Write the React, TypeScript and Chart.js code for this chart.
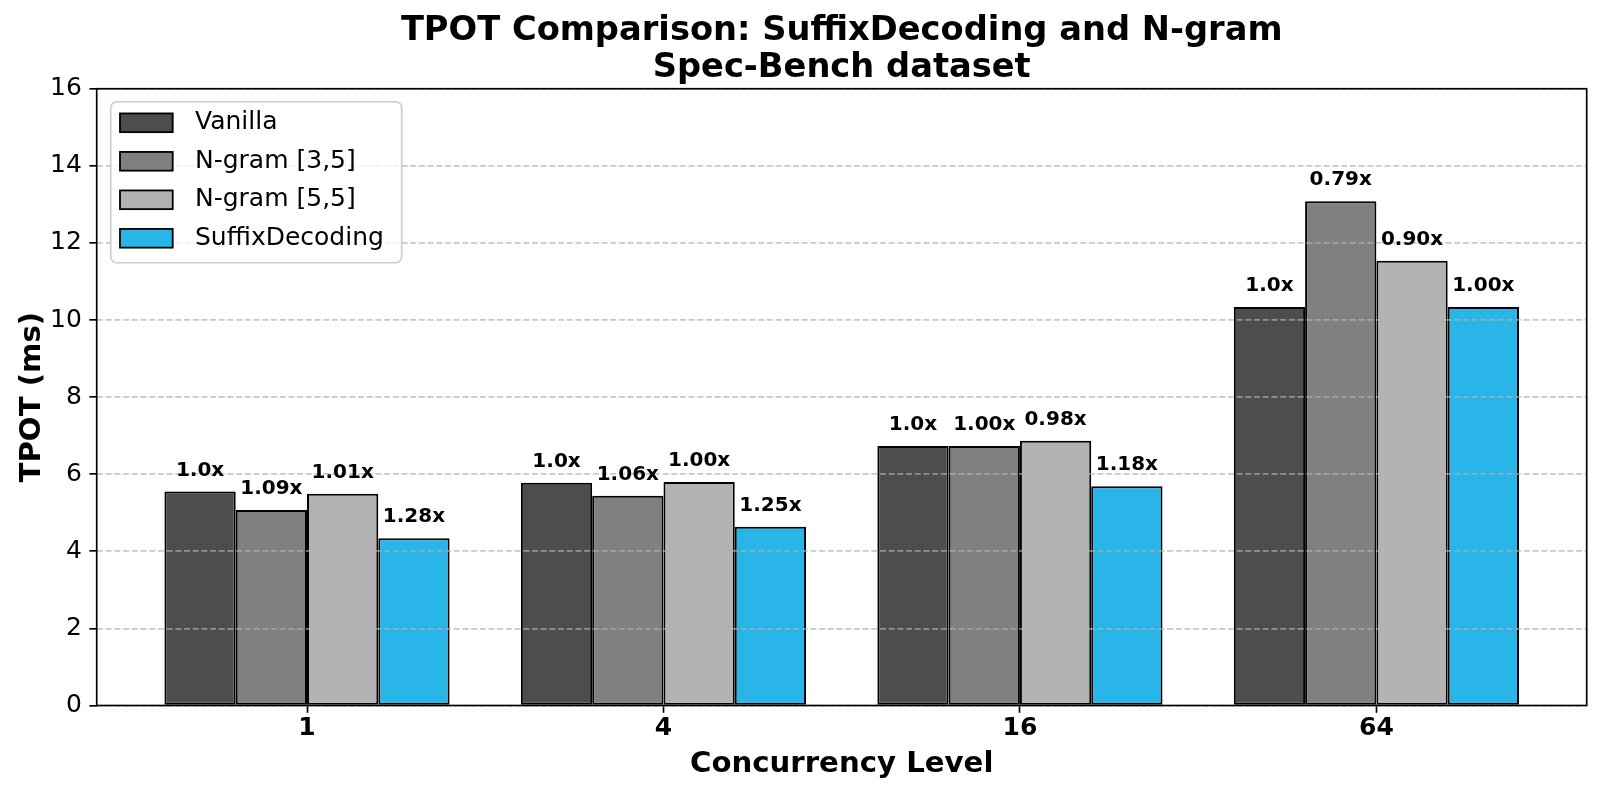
import {useEffect, useRef} from "react";

import {Chart, registerables} from "chart.js";

Chart.register(...registerables);

const FONT = "'DejaVu Sans', sans-serif";

// Data
const concurrencyLevels = ["1", "4", "16", "64"];
const seriesNames = ["Vanilla", "N-gram [3,5]", "N-gram [5,5]", "SuffixDecoding"];

const vanillaTpot = [5.55, 5.78, 6.73, 10.34];
const ngram35Tpot = [5.07, 5.44, 6.73, 13.08];
const ngram55Tpot = [5.49, 5.8, 6.87, 11.54];
const suffixTpot = [4.34, 4.64, 5.69, 10.34];

const vanillaSpeedup = ["1.0x", "1.0x", "1.0x", "1.0x"];
const ngram35Speedup = ["1.09x", "1.06x", "1.00x", "0.79x"];
const ngram55Speedup = ["1.01x", "1.00x", "0.98x", "0.90x"];
const suffixSpeedup = ["1.28x", "1.25x", "1.18x", "1.00x"];

const seriesColors = ["#4d4d4d", "#808080", "#b3b3b3", "#29b5e8"];

const titleLines = ["TPOT Comparison: SuffixDecoding and N-gram", "Spec-Bench dataset"];

const allTpot = [vanillaTpot, ngram35Tpot, ngram55Tpot, suffixTpot];
const allSpeedup = [vanillaSpeedup, ngram35Speedup, ngram55Speedup, suffixSpeedup];

// bar annotations, axes frame and the legend box (drawn inside the plot)
const overlayPlugin = {
  id: "overlay",
  afterDraw(chart: Chart) {
    const {ctx, chartArea} = chart;
    ctx.save();

    // speedup labels above bars
    ctx.font = `bold 20px ${FONT}`;
    ctx.fillStyle = "#000";
    ctx.textAlign = "center";
    ctx.textBaseline = "alphabetic";
    chart.data.datasets.forEach((_, di) => {
      const meta = chart.getDatasetMeta(di);
      meta.data.forEach((bar: any, i: number) => {
        ctx.fillText(allSpeedup[di][i], bar.x, bar.y - 16);
      });
    });

    // frame
    ctx.strokeStyle = "#000";
    ctx.lineWidth = 1.67;
    ctx.strokeRect(chartArea.left, chartArea.top, chartArea.right - chartArea.left, chartArea.bottom - chartArea.top);

    // legend
    const lx = chartArea.left + 14;
    const ly = chartArea.top + 13;
    const lw = 291;
    const lh = 161;
    ctx.beginPath();
    if ((ctx as any).roundRect) {
      (ctx as any).roundRect(lx, ly, lw, lh, 6);
    } else {
      ctx.rect(lx, ly, lw, lh);
    }
    ctx.fillStyle = "rgba(255,255,255,0.8)";
    ctx.fill();
    ctx.strokeStyle = "#cccccc";
    ctx.lineWidth = 1.67;
    ctx.stroke();

    ctx.font = `25px ${FONT}`;
    ctx.textAlign = "left";
    ctx.textBaseline = "middle";
    chart.data.datasets.forEach((ds, i) => {
      const rowY = ly + 21 + i * 38.5;
      ctx.fillStyle = ds.backgroundColor as string;
      ctx.fillRect(lx + 9.3, rowY - 9.3, 52.7, 18.7);
      ctx.strokeStyle = "#000";
      ctx.lineWidth = 1.8;
      ctx.strokeRect(lx + 9.3, rowY - 9.3, 52.7, 18.7);
      ctx.fillStyle = "#000";
      ctx.fillText(ds.label as string, lx + 84.3, rowY);
    });

    ctx.restore();
  },
};

export default function App() {
  const chartRef = useRef<HTMLCanvasElement>(null);
  const chartInstance = useRef<Chart | null>(null);

  useEffect(() => {
    if (!chartRef.current) return;

    if (chartInstance.current) {
      chartInstance.current.destroy();
    }

    Chart.defaults.font.family = FONT;
    Chart.defaults.color = "#000";

    const ctx = chartRef.current.getContext("2d");
    if (!ctx) return;

    chartInstance.current = new Chart(ctx, {
      type: "bar",
      data: {
        datasets: seriesNames.map((name, si) => ({
          label: name,
          data: allTpot[si].map((v, i) => ({x: i, y: v})),
          backgroundColor: seriesColors[si],
          borderColor: "#000",
          borderWidth: 2,
          borderSkipped: false,
          barPercentage: 1,
          categoryPercentage: 0.8,
        })),
      },
      options: {
        animation: false,
        responsive: true,
        maintainAspectRatio: false,
        layout: {padding: {left: 0, right: 13.3, top: 0, bottom: 0}},
        plugins: {
          legend: {display: false},
          tooltip: {enabled: false},
          title: {
            display: true,
            fullSize: false,
            text: titleLines,
            color: "#000",
            font: {family: FONT, size: 33.7, weight: "bold", lineHeight: 1.1},
            padding: {top: 12.5, bottom: 2.1},
          },
        },
        scales: {
          x: {
            type: "linear",
            min: -0.59,
            max: 3.59,
            offset: false,
            afterBuildTicks: (axis: any) => {
              axis.ticks = concurrencyLevels.map((_, i) => ({value: i}));
            },
            afterFit: (axis: any) => {
              axis.height = 89.5;
            },
            ticks: {
              callback: (v: any) => concurrencyLevels[v as number],
              font: {size: 25, weight: "bold"},
              padding: 1,
              color: "#000",
              autoSkip: false,
              maxRotation: 0,
            },
            grid: {
              offset: false,
              drawOnChartArea: false,
              drawTicks: true,
              tickLength: 7.3,
              tickColor: "#000",
              tickWidth: 1.67,
            },
            border: {display: false},
            title: {
              display: true,
              text: "Concurrency Level",
              color: "#000",
              font: {size: 29.2, weight: "bold"},
              padding: {top: 0, bottom: 13.5},
            },
          },
          y: {
            min: 0,
            max: 16,
            afterFit: (axis: any) => {
              axis.width = 96.7;
            },
            ticks: {stepSize: 2, font: {size: 25}, padding: 7.5, color: "#000"},
            grid: {
              color: "rgba(176,176,176,0.7)",
              lineWidth: 1.67,
              tickLength: 7.3,
              tickColor: "#000",
              tickWidth: 1.67,
              tickBorderDash: [],
              z: 1,
            },
            border: {display: false, dash: [6, 2.7]},
            title: {
              display: true,
              text: "TPOT (ms)",
              color: "#000",
              font: {size: 29.2, weight: "bold"},
              padding: {top: 15, bottom: 0},
            },
          },
        },
      },
      plugins: [overlayPlugin],
    });

    return () => {
      if (chartInstance.current) {
        chartInstance.current.destroy();
        chartInstance.current = null;
      }
    };
  }, []);

  return (
    <div style={{position: "absolute", left: 0, top: 0, width: 1600, height: 795, background: "#fff"}}>
      <canvas ref={chartRef} />
    </div>
  );
}
